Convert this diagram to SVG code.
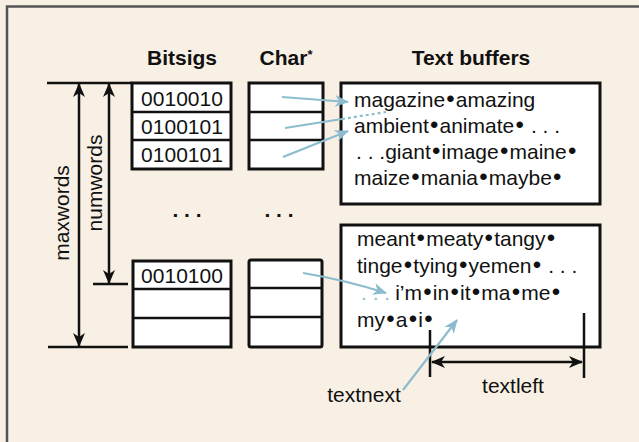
<svg xmlns="http://www.w3.org/2000/svg" width="639" height="442" viewBox="0 0 639 442">
<defs>
<style>
.t{font-family:"Liberation Sans",Arial,sans-serif;font-size:21px;fill:#111}
.b{font-weight:bold}
.d{font-size:24px;letter-spacing:1.2px}
.box{fill:#fff;stroke:#111;stroke-width:3}
.ln{stroke:#111;stroke-width:2.5;fill:none}
.bl{stroke:#8cbccd;stroke-width:2.2;fill:none}
</style>
<marker id="ah" markerWidth="14" markerHeight="12" refX="13" refY="6" orient="auto-start-reverse" markerUnits="userSpaceOnUse">
<path d="M0,0 L14,6 L0,12 L4,6 Z" fill="#111"/>
</marker>
<marker id="bh" markerWidth="14" markerHeight="12" refX="13" refY="6" orient="auto" markerUnits="userSpaceOnUse">
<path d="M0,0 L14,6 L0,12 L4,6 Z" fill="#8cbccd"/>
</marker>
</defs>
<rect x="0" y="0" width="639" height="442" fill="#f8f0e4"/>
<path d="M7,442 V6.5 H639" fill="none" stroke="#555" stroke-width="2.5"/>

<g id="titles">
<text class="t b" x="182" y="65" text-anchor="middle">Bitsigs</text>
<text class="t b" x="286" y="65" text-anchor="middle">Char<tspan font-size="13" dy="-6">*</tspan></text>
<text class="t b" x="471" y="65" text-anchor="middle">Text buffers</text>
</g>

<g id="bitsigs-top">
<rect class="box" x="132" y="83" width="99" height="86"/>
<line class="ln" x1="132" y1="112" x2="231" y2="112"/>
<line class="ln" x1="132" y1="140" x2="231" y2="140"/>
<text class="t" x="182" y="106" text-anchor="middle">0010010</text>
<text class="t" x="182" y="134" text-anchor="middle">0100101</text>
<text class="t" x="182" y="162" text-anchor="middle">0100101</text>
</g>

<g id="chars-top">
<rect class="box" x="249" y="83" width="74" height="86"/>
<line class="ln" x1="249" y1="112" x2="323" y2="112"/>
<line class="ln" x1="249" y1="140" x2="323" y2="140"/>
</g>

<g id="ellipses">
<text class="t b" x="187" y="217" text-anchor="middle">. . .</text>
<text class="t b" x="279" y="217" text-anchor="middle">. . .</text>
</g>

<g id="bitsigs-bottom">
<rect class="box" x="133" y="261" width="98" height="86"/>
<line class="ln" x1="133" y1="289" x2="231" y2="289"/>
<line class="ln" x1="133" y1="318" x2="231" y2="318"/>
<text class="t" x="182" y="283" text-anchor="middle">0010100</text>
</g>

<g id="chars-bottom">
<rect class="box" x="249" y="260" width="73" height="87" rx="2"/>
<line class="ln" x1="249" y1="288" x2="322" y2="288"/>
<line class="ln" x1="249" y1="317" x2="322" y2="317"/>
</g>

<g id="buffer1">
<rect class="box" x="341" y="83" width="259" height="121"/>
<text class="t" x="354" y="107">magazine<tspan class="d" dx="1.2">•</tspan>amazing</text>
<text class="t" x="354" y="133">ambient<tspan class="d" dx="1.2">•</tspan>animate<tspan class="d" dx="1.2">•</tspan> . . .</text>
<text class="t" x="356" y="159">. . .giant<tspan class="d" dx="1.2">•</tspan>image<tspan class="d" dx="1.2">•</tspan>maine<tspan class="d" dx="1.2">•</tspan></text>
<text class="t" x="354" y="185">maize<tspan class="d" dx="1.2">•</tspan>mania<tspan class="d" dx="1.2">•</tspan>maybe<tspan class="d" dx="1.2">•</tspan></text>
</g>

<g id="buffer2">
<rect class="box" x="341" y="225" width="259" height="122"/>
<text class="t" x="357" y="246">meant<tspan class="d" dx="1.2">•</tspan>meaty<tspan class="d" dx="1.2">•</tspan>tangy<tspan class="d" dx="1.2">•</tspan></text>
<text class="t" x="357" y="273">tinge<tspan class="d" dx="1.2">•</tspan>tying<tspan class="d" dx="1.2">•</tspan>yemen<tspan class="d" dx="1.2">•</tspan> . . .</text>
<text class="t" x="361" y="300"><tspan fill="#8cbccd">. . .</tspan><tspan dx="5">i’m</tspan><tspan class="d" dx="1.2">•</tspan>in<tspan class="d" dx="1.2">•</tspan>it<tspan class="d" dx="1.2">•</tspan>ma<tspan class="d" dx="1.2">•</tspan>me<tspan class="d" dx="1.2">•</tspan></text>
<text class="t" x="357" y="327">my<tspan class="d" dx="1.2">•</tspan>a<tspan class="d" dx="1.2">•</tspan>i<tspan class="d" dx="1.2">•</tspan></text>
</g>

<g id="labels">
<text class="t" transform="translate(69,213) rotate(-90)" text-anchor="middle">maxwords</text>
<text class="t" transform="translate(102,183) rotate(-90)" text-anchor="middle">numwords</text>
<text class="t" x="364" y="402" text-anchor="middle">textnext</text>
<text class="t" x="513" y="393" text-anchor="middle">textleft</text>
</g>

<g id="connectors">
<line class="ln" x1="47" y1="83" x2="132" y2="83"/>
<line class="ln" x1="48" y1="347" x2="128" y2="347"/>
<line class="ln" x1="93" y1="284" x2="128" y2="284"/>
<line class="ln" x1="79" y1="84" x2="79" y2="346" marker-start="url(#ah)" marker-end="url(#ah)"/>
<line class="ln" x1="109" y1="84" x2="109" y2="283" marker-start="url(#ah)" marker-end="url(#ah)"/>
<line class="ln" x1="430" y1="330" x2="430" y2="377"/>
<line class="ln" x1="584" y1="313" x2="584" y2="378"/>
<line class="ln" x1="432" y1="362" x2="582" y2="362" marker-start="url(#ah)" marker-end="url(#ah)"/>
<line class="bl" x1="282" y1="97" x2="348" y2="102" marker-end="url(#bh)"/>
<line class="bl" x1="285" y1="128" x2="342" y2="119"/>
<line class="bl" x1="342" y1="119" x2="386" y2="112" stroke-dasharray="3,3" stroke-width="1.5"/>
<line class="bl" x1="283" y1="157" x2="348" y2="131" marker-end="url(#bh)"/>
<path class="bl" d="M303,273 Q345,280 386,293" marker-end="url(#bh)"/>
<line class="bl" x1="403" y1="390" x2="457" y2="320" marker-end="url(#bh)"/>
</g>
</svg>
